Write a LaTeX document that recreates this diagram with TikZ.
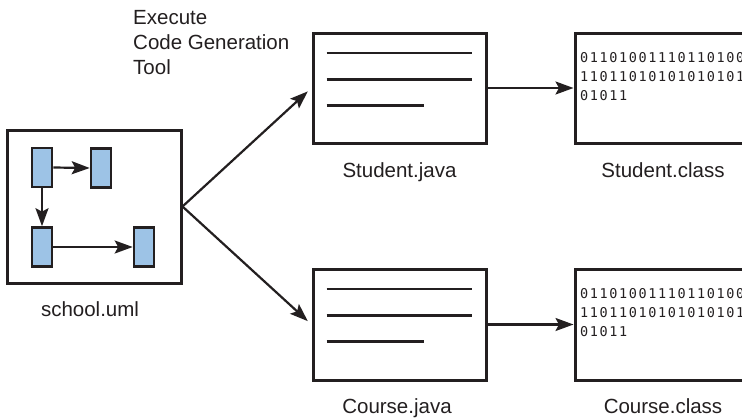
\documentclass[tikz,border=0pt]{standalone}
\usepackage{fontspec}
\setmainfont{Liberation Sans}
\newfontfamily\bitsfont[LetterSpace=12]{DejaVu Sans Mono}
\usetikzlibrary{arrows.meta,calc}
\definecolor{umlblue}{RGB}{157,195,230}
\definecolor{inkc}{RGB}{35,31,32}
\begin{document}
\begin{tikzpicture}[x=1pt,y=-1pt,
  every node/.style={text=inkc},
  bigbox/.style={draw=inkc, line width=3pt, inner sep=0pt},
  filebox/.style={bigbox, minimum width=173pt, minimum height=110pt},
  classbox/.style={bigbox, minimum width=185pt, minimum height=110pt},
  umlrect/.style={draw=inkc, fill=umlblue, line width=2.6pt, minimum width=20pt, minimum height=39pt, inner sep=0pt},
  conn/.style={draw=inkc, line width=2.2pt, -{Stealth[length=18pt,width=13pt,inset=3.5pt]}},
  textline/.style={draw=inkc, line width=2.6pt},
  label/.style={anchor=base, inner sep=0pt, font=\fontsize{20.5}{25}\selectfont},
  bits/.style={anchor=north west, inner sep=0pt, align=left, font=\bitsfont\fontsize{13.5}{19}\selectfont}
]
\clip (0,0) rectangle (742,418);
\fill[white] (0,0) rectangle (742,418);

% school.uml
\node[bigbox, minimum width=174pt, minimum height=153pt] (school) at (94,206.5) {};
\node[umlrect] (r1) at (42,167.5) {};
\node[umlrect] (r2) at (101,168) {};
\node[umlrect] (r3) at (42,247) {};
\node[umlrect] (r4) at (144,247) {};
\draw[conn] (r1.east) -- (r2.west);
\draw[conn] (r1.south) -- (r3.north);
\draw[conn] (r3.east) -- (r4.west);
\node[label] (schoollbl) at (90,316.7) {school.uml};

\node[anchor=north west, inner sep=0pt, align=left, font=\fontsize{20.5}{25}\selectfont] (exec) at (133,10.3) {Execute\\Code Generation\\Tool};

% java files
\node[filebox] (sjava) at (399.5,88) {};
\node[filebox, minimum height=111pt] (cjava) at (399.5,324.5) {};
\foreach \b in {sjava,cjava}{
  \draw[textline] ($(\b.north west)+(15,21.5)$) -- ++(145,0);
  \draw[textline] ($(\b.north west)+(15,48)$) -- ++(145,0);
  \draw[textline] ($(\b.north west)+(15,74)$) -- ++(97,0);
}
\node[label] (sjavalbl) at (399.5,177) {Student.java};
\node[label] (cjavalbl) at (397,413) {Course.java};

% class files
\node[classbox] (sclass) at (667.5,88) {};
\node[classbox, minimum height=111pt] (cclass) at (667.5,324.5) {};
\node[bits] (sbits) at (580,51.8) {01101001110110100\\11011010101010101\\01011};
\node[bits] (cbits) at (580,288.4) {01101001110110100\\11011010101010101\\01011};
\node[label] (sclasslbl) at (663,177) {Student.class};
\node[label] (cclasslbl) at (663,413) {Course.class};

% connectors
\draw[conn, shorten >=5pt] (school.east) -- (sjava.west);
\draw[conn, shorten >=5pt] (school.east) -- (cjava.west);
\draw[conn] (sjava.east) -- (sclass.west);
\draw[conn] (cjava.east) -- (cclass.west);
\end{tikzpicture}
\end{document}
